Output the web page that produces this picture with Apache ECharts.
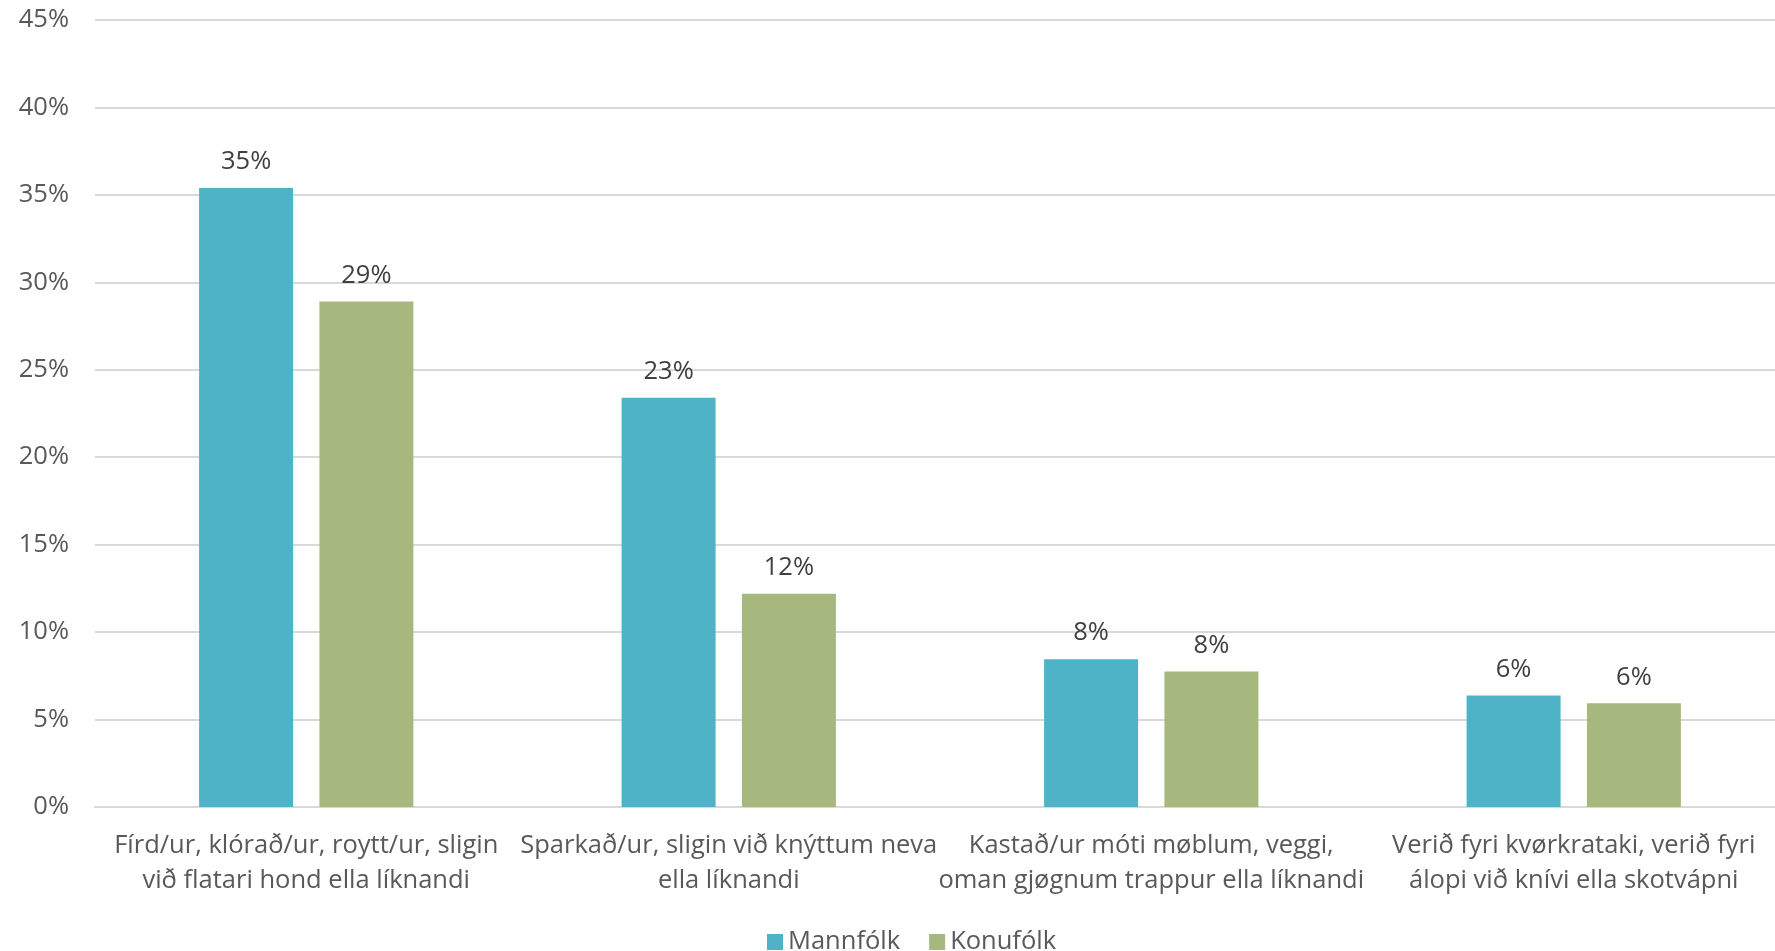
<!DOCTYPE html>
<html>
<head>
<meta charset="utf-8">
<script src="https://cdn.jsdelivr.net/npm/echarts@6/dist/echarts.min.js"></script>
<style>
html,body{margin:0;padding:0;background:#fff;}
#c{width:1775px;height:951px;}
</style>
</head>
<body>
<div id="c"></div>
<script>
const categories = [
  "Fírd/ur, klórað/ur, roytt/ur, sligin\nvið flatari hond ella líknandi",
  "Sparkað/ur, sligin við knýttum neva\nella líknandi",
  "Kastað/ur móti møblum, veggi,\noman gjøgnum trappur ella líknandi",
  "Verið fyri kvørkrataki, verið fyri\nálopi við knívi ella skotvápni"
];
const seriesNames = ["Mannfólk", "Konufólk"];
const mannfolk = [35.4, 23.4, 8.45, 6.37];
const konufolk = [28.9, 12.2, 7.75, 5.93];
const yTicks = [0, 5, 10, 15, 20, 25, 30, 35, 40, 45];

const FONT = "Open Sans";
const FS = 25.5;
const chart = echarts.init(document.getElementById('c'));
const labelCfg = {
  show: true,
  position: 'top',
  distance: 13,
  color: '#404040',
  fontFamily: FONT,
  fontSize: FS,
  formatter: p => Math.round(p.value) + '%'
};
chart.setOption({
  animation: false,
  textStyle: {fontFamily: FONT},
  grid: {left: 95, width: 1690, top: 20, height: 787, containLabel: false, outerBoundsMode: 'none'},
  legend: {
    data: seriesNames,
    left: 762,
    top: 924,
    itemWidth: 16,
    itemHeight: 16,
    itemGap: 29,
    icon: 'rect',
    textStyle: {color: '#595959', fontSize: FS, fontFamily: FONT}
  },
  xAxis: {
    type: 'category',
    data: categories,
    axisLine: {lineStyle: {color: '#d9d9d9', width: 2}},
    axisTick: {show: false},
    axisLabel: {color: '#595959', fontSize: FS, fontFamily: FONT, lineHeight: 35, margin: 21, interval: 0}
  },
  yAxis: {
    type: 'value',
    min: yTicks[0],
    max: yTicks[yTicks.length - 1],
    interval: yTicks[1] - yTicks[0],
    axisLine: {show: false},
    axisTick: {show: false},
    splitLine: {lineStyle: {color: '#d9d9d9', width: 2}},
    axisLabel: {color: '#595959', fontSize: FS, fontFamily: FONT, margin: 26, formatter: '{value}%'}
  },
  series: [
    {name: seriesNames[0], type: 'bar', data: mannfolk, barWidth: 94, barGap: '28%',
     itemStyle: {color: '#4fb3c8'}, label: labelCfg},
    {name: seriesNames[1], type: 'bar', data: konufolk, barWidth: 94, barGap: '28%',
     itemStyle: {color: '#a7b87f'}, label: labelCfg}
  ]
});
</script>
</body>
</html>
